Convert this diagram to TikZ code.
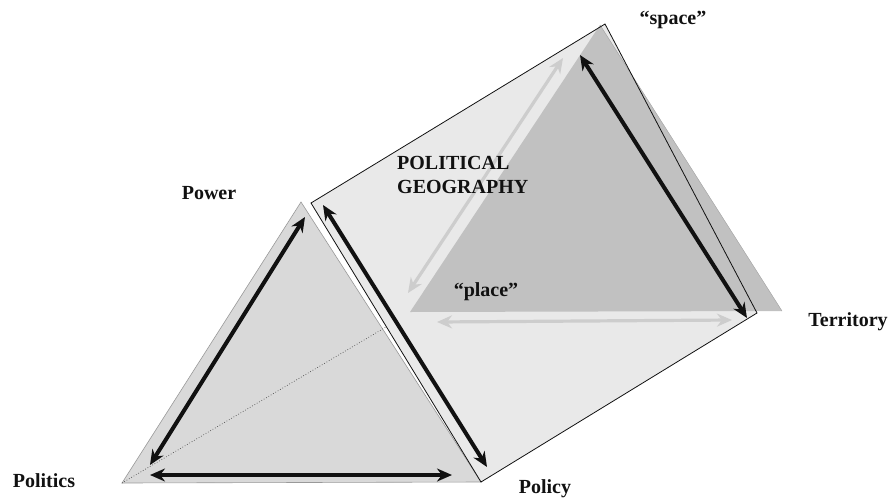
\documentclass[tikz,border=0pt]{standalone}
\usepackage{fontspec}
\setmainfont{Liberation Serif}
\usetikzlibrary{arrows.meta}
\definecolor{pgink}{HTML}{111111}
\definecolor{frontface}{HTML}{D9D9D9}
\definecolor{sideface}{HTML}{E9E9E9}
\definecolor{backface}{HTML}{C1C1C1}
\definecolor{palearrow}{HTML}{CDCDCD}

\begin{document}
\begin{tikzpicture}[
    x=1pt, y=-1pt,
    >={Stealth[length=15pt, width=13pt]},
    lab/.style={font=\fontsize{20}{24}\selectfont\bfseries, text=pgink, inner sep=0pt, align=left},
    bold arrow/.style={<->, line width=4pt, draw=pgink},
    pale arrow/.style={<->, line width=3.2pt, draw=palearrow},
]
\useasboundingbox (0,0) rectangle (891,498);

% prism corners
\coordinate (power)   at (301,202);
\coordinate (politics) at (122,483);
\coordinate (policy)  at (481,482);
\coordinate (sideTL)  at (311,203);
\coordinate (space)   at (605,24);
\coordinate (terr)    at (757,313);
\coordinate (backTop) at (600,25);
\coordinate (backL)   at (410,312);
\coordinate (backR)   at (782,311);
\coordinate (hidden)  at (386,327);

% front triangle
\fill[frontface] (power) -- (politics) -- (policy) -- cycle;
\draw[line width=0.6pt, black!40] (power) -- (politics) -- (policy) -- cycle;
\draw[dotted, line width=0.7pt, black!70] (politics) -- (hidden);

% side face and back triangle
\fill[sideface] (sideTL) -- (space) -- (terr) -- (policy) -- cycle;
\fill[backface] (backTop) -- (backL) -- (backR) -- cycle;
\draw[line width=0.5pt, black!35] (backTop) -- (backR);
\draw[line width=0.8pt, pgink] (sideTL) -- (space) -- (terr) -- (policy) -- cycle;

% arrow ends
\coordinate (a1) at (305,217);  \coordinate (a2) at (150,465);
\coordinate (b1) at (150,475);  \coordinate (b2) at (452,475);
\coordinate (c1) at (323,205);  \coordinate (c2) at (487,467);
\coordinate (d1) at (580,55);   \coordinate (d2) at (747,318);
\coordinate (e1) at (563,58);   \coordinate (e2) at (408,293);
\coordinate (f1) at (437,322);  \coordinate (f2) at (732,320);

\draw[pale arrow] (e1) -- (e2);
\draw[pale arrow] (f1) -- (f2);
\draw[bold arrow] (a1) -- (a2);
\draw[bold arrow] (b1) -- (b2);
\draw[bold arrow] (c1) -- (c2);
\draw[bold arrow] (d1) -- (d2);

% labels
\node[lab] (lpower)    at (209,193) {Power};
\node[lab] (lpolitics) at (44,481)  {Politics};
\node[lab] (lpolicy)   at (545,489) {Policy};
\node[lab] (lterr)     at (848,322) {Territory};
\node[lab] (lspace)    at (673,20)  {“space”};
\node[lab] (lplace)    at (486,292) {“place”};
\node[lab, anchor=west] (lgeo) at (397,175) {POLITICAL\\GEOGRAPHY};

\end{tikzpicture}
\end{document}
